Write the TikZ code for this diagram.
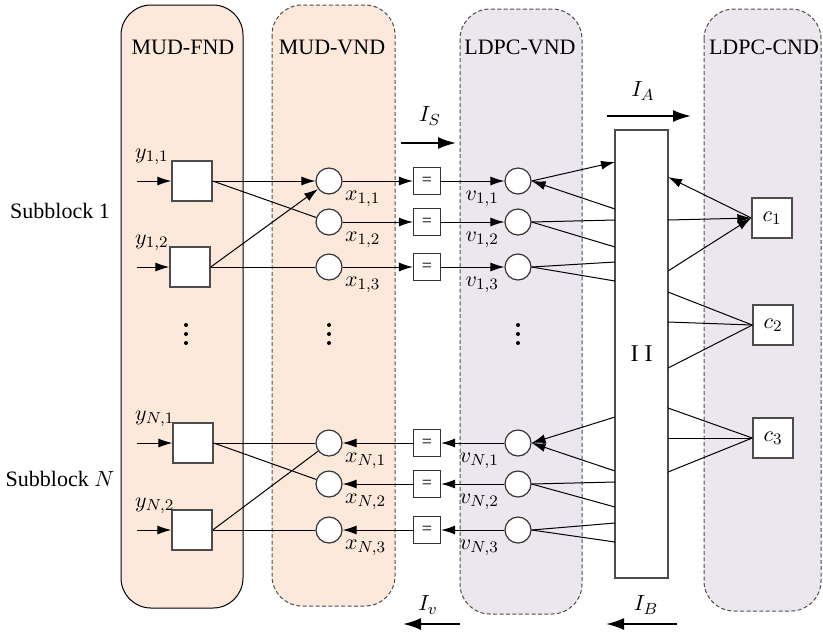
\documentclass[tikz,border=0pt]{standalone}
\usepackage{fontspec}
\setmainfont{Liberation Serif}
\usetikzlibrary{arrows.meta}
\definecolor{mudfill}{RGB}{252,233,220}
\definecolor{ldpcfill}{RGB}{236,230,239}
\tikzset{
  panel/.style={rounded corners=15pt,line width=0.5pt},
  dpanel/.style={panel,draw=black!70,dash pattern=on 2pt off 1.2pt},
  fbox/.style={draw=black!70,fill=white,line width=0.7pt,minimum size=20pt,inner sep=0pt},
  vnode/.style={circle,draw=black!80,fill=white,line width=0.6pt,minimum size=13pt,inner sep=0pt},
  eqbox/.style={draw=black!80,fill=white,line width=0.6pt,minimum size=13.5pt,inner sep=0pt,font=\small},
  arr/.style={-{Latex[length=7pt,width=4.5pt]}},
  flow/.style={line width=1pt,-{Latex[length=9pt,width=6pt]}},
}
\begin{document}
\begin{tikzpicture}[x=0.5pt,y=-0.5pt,font=\fontsize{11}{13}\selectfont,line width=0.5pt]
  \useasboundingbox (0,0) rectangle (823,634);
  % panels
  \draw[panel,fill=mudfill] (121,5) rectangle (243,608);
  \draw[dpanel,fill=mudfill] (272,5) rectangle (395,606);
  \draw[dpanel,fill=ldpcfill] (460,9) rectangle (582,614);
  \draw[dpanel,fill=ldpcfill] (704,9) rectangle (821,611);
  \node (tfnd) at (183,47) {MUD-FND};
  \node (tmvnd) at (332,47) {MUD-VND};
  \node (tlvnd) at (520,47) {LDPC-VND};
  \node (tlcnd) at (764,47) {LDPC-CND};
  \node (sub1) at (60,211) {Subblock 1};
  \node (subN) at (60,479) {Subblock $N$};
  % detector nodes
  \node[fbox] (fy11) at (192,181) {};
  \node[fbox] (fy12) at (190,267) {};
  \node[fbox] (fyN1) at (193,443) {};
  \node[fbox] (fyN2) at (192,530) {};
  \foreach \n/\s/\y in {11/{1,1}/181,12/{1,2}/267,N1/{N,1}/443,N2/{N,2}/530}{
    \coordinate (in\n) at (137,\y);
    \node[anchor=west] (ly\n) at (128,\y-24) {$y_{\s}$};
    \draw[arr] (in\n) -- (fy\n);
  }
  % variable nodes
  \foreach \n/\s/\y in {11/{1,1}/181,12/{1,2}/222,13/{1,3}/267,N1/{N,1}/443,N2/{N,2}/484,N3/{N,3}/530}{
    \node[vnode] (x\n) at (329,\y) {};
    \node[eqbox] (e\n) at (427,\y) {=};
    \node[vnode] (v\n) at (518,\y) {};
    \node[anchor=west] (lx\n) at (338,\y+18) {$x_{\s}$};
    \node[anchor=east] (lv\n) at (506,\y+18) {$v_{\s}$};
  }
  % dots
  \foreach \x in {186,329,518}
    \foreach \y in {325,334,343}
      \fill (\x,\y) circle (1pt);
  % interleaver and check nodes
  \node[draw=black!70,fill=white,line width=0.7pt,minimum width=26.5pt,minimum height=224pt,inner sep=0pt,font=\fontsize{12}{14}\selectfont] (pi) at (641.5,354) {I\hspace{3pt}I};
  \node[fbox] (c1) at (772,218) {$c_1$};
  \node[fbox] (c2) at (773,325) {$c_2$};
  \node[fbox] (c3) at (773,438) {$c_3$};
  \foreach \k/\y in {a/162,b/209,c/220,d/247,e/262,f/281,g/417,h/471,i/482,j/507,k/523,l/542}
    \coordinate (pl\k) at (615,\y);
  \foreach \k/\y in {a/177,b/220,c/271,d/292,e/322,f/368,g/408,h/438,i/472}
    \coordinate (pr\k) at (668,\y);
  % subblock 1
  \draw[arr] (fy11.east) -- (x11);
  \draw (fy11.east) -- (x12);
  \draw[arr] (fy12.east) -- (x11);
  \draw (fy12.east) -- (x13);
  \foreach \n in {11,12,13}{
    \draw[arr] (x\n) -- (e\n);
    \draw[arr] (e\n) -- (v\n);
  }
  % subblock N
  \draw (fyN1.east) -- (xN1);
  \draw (fyN1.east) -- (xN2);
  \draw (fyN2.east) -- (xN1);
  \draw (fyN2.east) -- (xN3);
  \foreach \n in {N1,N2,N3}{
    \draw[arr] (v\n) -- (e\n);
    \draw[arr] (e\n) -- (x\n);
  }
  % edges through the interleaver
  \draw[arr] (v11.east) -- (pla);
  \draw[arr] (plb) -- (v11.east);
  \draw (v12.east) -- (plc);
  \draw (v12.east) -- (pld);
  \draw (v13.east) -- (ple);
  \draw (v13.east) -- (plf);
  \draw[arr] (plg) -- (vN1.east);
  \draw[arr] (plh) -- (vN1.east);
  \draw (vN2.east) -- (pli);
  \draw (vN2.east) -- (plj);
  \draw (vN3.east) -- (plk);
  \draw (vN3.east) -- (pll);
  \draw[arr] (c1.west) -- (pra);
  \draw[arr] (prb) -- (c1.west);
  \draw[arr] (prc) -- (c1.west);
  \draw (prd) -- (c2.west);
  \draw (pre) -- (c2.west);
  \draw (prf) -- (c2.west);
  \draw (prg) -- (c3.west);
  \draw (prh) -- (c3.west);
  \draw (pri) -- (c3.west);
  % information flow
  \coordinate (is0) at (401,143);
  \coordinate (is1) at (456,143);
  \coordinate (ia0) at (607,116);
  \coordinate (ia1) at (691,116);
  \coordinate (iv0) at (460,624);
  \coordinate (iv1) at (403,624);
  \coordinate (ib0) at (677,624);
  \coordinate (ib1) at (606,624);
  \draw[flow] (is0) -- (is1);
  \draw[flow] (ia0) -- (ia1);
  \draw[flow] (iv0) -- (iv1);
  \draw[flow] (ib0) -- (ib1);
  \node (lis) at (430,116) {$I_S$};
  \node (lia) at (643,91) {$I_A$};
  \node (liv) at (428,605) {$I_v$};
  \node (lib) at (646,605) {$I_B$};
\end{tikzpicture}
\end{document}
